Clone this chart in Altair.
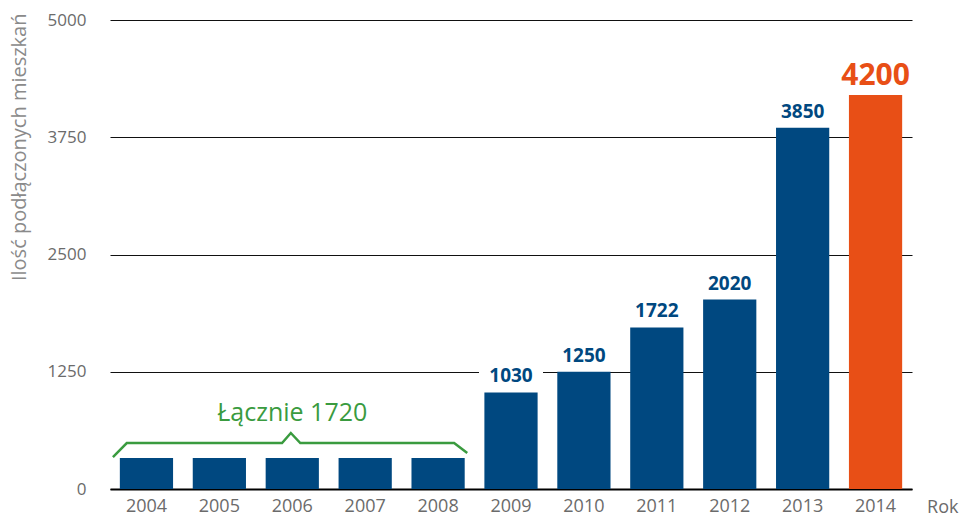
import altair as alt
import pandas as pd

# ---- data ----
years = ["2004", "2005", "2006", "2007", "2008", "2009", "2010", "2011", "2012", "2013", "2014"]
values = [330, 330, 330, 330, 330, 1030, 1250, 1722, 2020, 3850, 4200]
group = ["base"] * 10 + ["hl"]
labels = ["", "", "", "", "", "1030", "1250", "1722", "2020", "3850", "4200"]
y_ticks = [0, 1250, 2500, 3750, 5000]

# brace annotation over 2004-2008 (x in category-index units, y in data units)
brace_x = [0.04, 0.23, 2.36, 2.48, 2.61, 4.72, 4.90]
brace_y = [341, 490, 490, 597, 490, 490, 384]
brace_text = ["Łącznie 1720"]
brace_text_x = [2.5]
brace_text_y = [725]

NAVY = "#004880"
ORANGE = "#e84f16"
GREEN = "#3a9b3f"
FONT = "Open Sans"

df = pd.DataFrame({"Rok": years, "value": values, "grp": group, "label": labels})
brace_df = pd.DataFrame({"bx": brace_x, "value": brace_y, "order": list(range(len(brace_x)))})
brace_lab_df = pd.DataFrame({"bx": brace_text_x, "value": brace_text_y, "t": brace_text})

y_enc = alt.Y(
    "value:Q",
    scale=alt.Scale(domain=[0, 5000], nice=False),
    axis=alt.Axis(
        values=y_ticks,
        format="d",
        title="Ilość podłączonych mieszkań",
        domain=False,
        ticks=False,
        grid=True,
        gridColor="#111111",
        gridWidth=1,
        labelPadding=24,
        labelFontSize=17,
        labelColor="#6b6b6b",
        labelFont=FONT,
        titleFont=FONT,
        titleFontSize=20,
        titleFontWeight="normal",
        titleColor="#8a8a8a",
        titleAngle=270,
        titleAlign="right",
        titleBaseline="middle",
        titleX=-91,
        titleY=-7,
    ),
)

x_enc = alt.X(
    "Rok:N",
    sort=years,
    scale=alt.Scale(paddingInner=0.27, paddingOuter=0.135),
    axis=alt.Axis(
        title="Rok",
        labelAngle=0,
        ticks=False,
        grid=False,
        domainColor="#000000",
        domainWidth=2,
        labelPadding=8,
        labelFontSize=18,
        labelColor="#6b6b6b",
        labelFont=FONT,
        titleFont=FONT,
        titleFontSize=18,
        titleFontWeight="normal",
        titleColor="#6b6b6b",
        titleAngle=0,
        titleAlign="right",
        titleBaseline="alphabetic",
        titleX=848,
        titleY=23,
    ),
)

base = alt.Chart(df)

boxes = base.transform_filter("datum.label != ''").mark_point(
    shape="M-1,-0.3H1V0.3H-1Z", filled=True, color="white", opacity=1, size=4096, yOffset=-16
).encode(x=x_enc, y=y_enc)

bars = base.mark_bar().encode(
    x=x_enc,
    y=y_enc,
    color=alt.Color("grp:N", scale=alt.Scale(domain=["base", "hl"], range=[NAVY, ORANGE]), legend=None),
)

blue_labels = base.transform_filter("datum.label != '' && datum.grp == 'base'").mark_text(
    font=FONT, fontSize=19, fontWeight="bold", color=NAVY, baseline="alphabetic", dy=-10
).encode(x=x_enc, y=y_enc, text="label:N")

orange_label = base.transform_filter("datum.grp == 'hl'").mark_text(
    font=FONT, fontSize=30, fontWeight="bold", color=ORANGE, baseline="alphabetic", dy=-10
).encode(x=x_enc, y=y_enc, text="label:N")

main = alt.layer(boxes, bars, blue_labels, orange_label)

bx_enc = alt.X("bx:Q", scale=alt.Scale(domain=[0, 11], nice=False, zero=False), axis=None)

brace = alt.Chart(brace_df).mark_line(color=GREEN, strokeWidth=2.5).encode(
    x=bx_enc, y=y_enc, order="order:Q"
)
brace_label = alt.Chart(brace_lab_df).mark_text(
    font=FONT, fontSize=25, color=GREEN, baseline="alphabetic"
).encode(x=bx_enc, y=y_enc, text="t:N")

chart = (
    alt.layer(main, alt.layer(brace, brace_label))
    .resolve_scale(x="independent")
    .properties(
        width=802,
        height=469,
        autosize=alt.AutoSizeParams(type="none"),
        padding={"left": 110, "top": 20, "right": 47, "bottom": 28},
        background="white",
    )
    .configure_view(stroke=None)
)

chart.save("out.html", embed_options={"renderer": "svg", "actions": False})
